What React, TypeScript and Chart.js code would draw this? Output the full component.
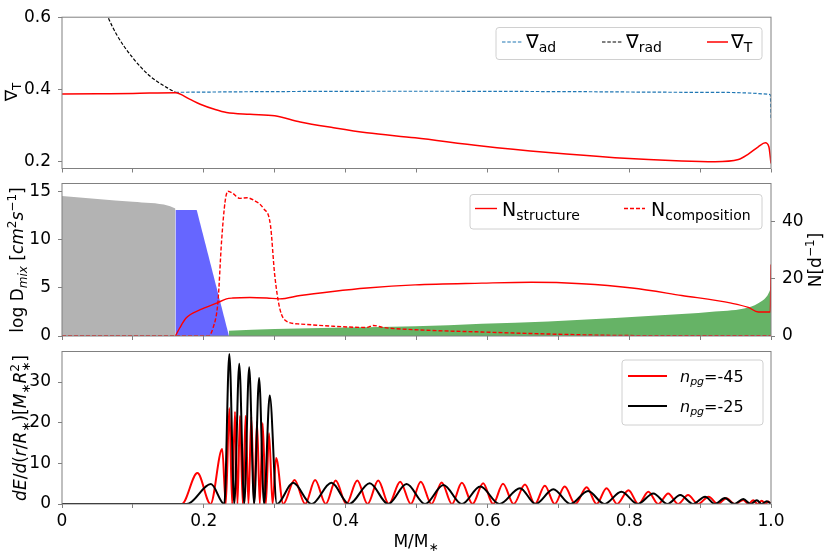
import { useEffect, useRef } from "react";
import { Chart, registerables } from "chart.js";

Chart.register(...registerables);

const W = 830;
const H = 554;
const FONT = '"DejaVu Sans", sans-serif';
const SPINE = "#808080";
const RED = "#ff0000";
const BLUE = "#1f77b4";

Chart.defaults.font.family = FONT;

// shared mass axis
const X_TICKS = [0, 0.1, 0.2, 0.3, 0.4, 0.5, 0.6, 0.7, 0.8, 0.9, 1.0];
const X_TICK_LABELS = ["0", "", "0.2", "", "0.4", "", "0.6", "", "0.8", "", "1.0"];

// top panel: temperature gradients
const GRAD_T_X = [0, 0.05, 0.1, 0.16, 0.18, 0.195, 0.215, 0.232, 0.265, 0.3, 0.336, 0.383, 0.43, 0.498, 0.592, 0.686, 0.78, 0.874, 0.921, 0.954, 0.968, 0.982, 0.992, 0.997, 1.0];
const GRAD_T_Y = [0.387, 0.388, 0.389, 0.391, 0.373, 0.359, 0.345, 0.336, 0.331, 0.327, 0.31, 0.294, 0.28, 0.266, 0.243, 0.225, 0.211, 0.202, 0.2, 0.206, 0.221, 0.241, 0.252, 0.241, 0.195];
const GRAD_AD_X = [0.16, 0.3, 0.5, 0.7, 0.9, 0.999, 1.0];
const GRAD_AD_Y = [0.392, 0.394, 0.395, 0.394, 0.392, 0.386, 0.32];
const GRAD_RAD_X = [0.05, 0.065, 0.077, 0.1, 0.124, 0.148, 0.16];
const GRAD_RAD_Y = [0.68, 0.6, 0.552, 0.487, 0.437, 0.405, 0.392];
const TOP_Y_TICKS = [0.2, 0.4, 0.6];

// middle panel: mixing + buoyancy frequency
const GRAY_X = [0, 0.05, 0.1, 0.15, 0.16];
const GRAY_Y = [14.5, 14.2, 13.9, 13.5, 13.2];
const BLUE_X = [0.16, 0.19, 0.2355];
const BLUE_Y = [13.05, 13.05, 0];
const GREEN_X = [0.2355, 0.3, 0.4, 0.498, 0.592, 0.686, 0.78, 0.874, 0.921, 0.968, 0.986, 0.995, 1.0];
const GREEN_Y = [0.55, 0.72, 0.88, 1.0, 1.27, 1.51, 1.86, 2.27, 2.54, 2.96, 3.58, 4.2, 5.0];
const N_STRUCT_X = [0.16, 0.166, 0.175, 0.195, 0.218, 0.232, 0.241, 0.265, 0.289, 0.307, 0.336, 0.382, 0.43, 0.498, 0.592, 0.662, 0.733, 0.804, 0.874, 0.944, 0.968, 0.982, 0.999, 1.0];
const N_STRUCT_Y = [0, 2.8, 6.3, 9.2, 11.5, 13.0, 13.3, 13.5, 13.3, 13.0, 14.2, 15.6, 16.8, 17.9, 18.5, 18.8, 18.3, 16.8, 14.2, 11.5, 10.0, 8.4, 8.4, 25];
const N_COMP_X = [0, 0.206, 0.213, 0.22, 0.225, 0.23, 0.234, 0.241, 0.251, 0.261, 0.27, 0.284, 0.294, 0.3, 0.307, 0.317, 0.336, 0.383, 0.43, 0.439, 0.453, 0.498, 0.592, 0.686, 0.78, 0.9, 1.0];
const N_COMP_Y = [0, 0, 2.8, 12.1, 33, 47, 50.7, 49.9, 48.2, 48.4, 47.6, 44.7, 38.8, 21.4, 9.8, 5.1, 4.2, 3.4, 3.0, 3.7, 3.0, 2.2, 1.4, 0.7, 0.2, 0.1, 0.1];
const MID_Y_TICKS = [0, 5, 10, 15];
const MID_Y2_TICKS = [0, 20, 40];

// bottom panel: mode energy density (peaks and zeros)
const E45_X = [0, 0.169, 0.191, 0.2095, 0.226, 0.231, 0.236, 0.24, 0.244, 0.2475, 0.251, 0.255, 0.259, 0.263, 0.267, 0.271, 0.275, 0.279, 0.283, 0.2875, 0.292, 0.297, 0.302, 0.312, 0.328, 0.343, 0.357, 0.372, 0.386, 0.401, 0.4165, 0.431, 0.446, 0.461, 0.477, 0.492, 0.506, 0.521, 0.5355, 0.55, 0.564, 0.579, 0.594, 0.608, 0.622, 0.637, 0.653, 0.667, 0.681, 0.695, 0.709, 0.724, 0.74, 0.754, 0.768, 0.783, 0.799, 0.813, 0.827, 0.841, 0.855, 0.869, 0.883, 0.897, 0.912, 0.925, 0.937, 0.949, 0.961, 0.968, 0.975, 0.981, 0.987, 0.992, 0.996, 1.0];
const E45_Y = [0, 0, 7.6, 0, 13.5, 0, 23.6, 0, 22.7, 0, 21.7, 0, 21.7, 0, 21.4, 0, 20.3, 0, 19.9, 0, 17.4, 0, 11.3, 0, 5.9, 0, 5.9, 0, 5.8, 0, 5.8, 0, 5.8, 0, 5.5, 0, 5.5, 0, 5.3, 0, 5.2, 0, 5.1, 0, 5.0, 0, 4.8, 0, 4.5, 0, 4.3, 0, 4.1, 0, 3.9, 0, 3.4, 0, 3.0, 0, 2.6, 0, 2.2, 0, 1.8, 0, 1.4, 0, 1.0, 0, 0.9, 0, 0.8, 0, 0.6, 0];
const E25_X = [0, 0.176, 0.21, 0.229, 0.236, 0.243, 0.25, 0.257, 0.264, 0.271, 0.278, 0.285, 0.293, 0.303, 0.326, 0.352, 0.38, 0.405, 0.434, 0.46, 0.486, 0.512, 0.538, 0.564, 0.59, 0.617, 0.646, 0.668, 0.693, 0.717, 0.742, 0.765, 0.789, 0.812, 0.834, 0.854, 0.872, 0.89, 0.907, 0.921, 0.935, 0.948, 0.961, 0.971, 0.98, 0.987, 0.994, 1.0];
const E25_Y = [0, 0, 4.9, 0, 36.9, 0, 34.5, 0, 33.6, 0, 31.0, 0, 26.7, 0, 5.2, 0, 5.2, 0, 5.1, 0, 4.9, 0, 4.7, 0, 4.3, 0, 3.9, 0, 3.6, 0, 3.2, 0, 3.0, 0, 2.6, 0, 2.2, 0, 1.8, 0, 1.5, 0, 1.2, 0, 0.9, 0, 0.7, 0];
const BOT_Y_TICKS = [0, 10, 20, 30];

const LEFT = 62;
const RIGHT = 771;
const PANEL_TOP = { top: 16, bottom: 168.5 };
const PANEL_MID = { top: 183.5, bottom: 336 };
const PANEL_BOT = { top: 351.5, bottom: 504 };

const pts = (xs: number[], ys: number[]) => xs.map((x, i) => ({ x, y: ys[i] }));

type Seg = { t: string; s: number; it?: boolean; dy?: number; stack?: boolean };

function drawRich(ctx: CanvasRenderingContext2D, segs: Seg[], x: number, y: number, align = "left", rot = 0) {
  ctx.save();
  ctx.translate(x, y);
  if (rot) ctx.rotate(rot);
  ctx.textBaseline = "alphabetic";
  ctx.textAlign = "left";
  ctx.fillStyle = "#000";
  const font = (s: Seg) => `${s.it ? "italic " : ""}${s.s}px ${FONT}`;
  const xs: number[] = [];
  let pos = 0;
  let start = 0;
  for (const s of segs) {
    ctx.font = font(s);
    const w = ctx.measureText(s.t).width;
    if (s.stack) {
      xs.push(start);
      pos = Math.max(pos, start + w);
    } else {
      xs.push(pos);
      start = pos;
      pos += w;
    }
  }
  const x0 = align === "center" ? -pos / 2 : 0;
  segs.forEach((s, i) => {
    ctx.font = font(s);
    ctx.fillText(s.t, x0 + xs[i], s.dy ?? 0);
  });
  ctx.restore();
}

function legendBox(ctx: CanvasRenderingContext2D, x: number, y: number, w: number, h: number) {
  const r = 3;
  ctx.beginPath();
  ctx.moveTo(x + r, y);
  ctx.arcTo(x + w, y, x + w, y + h, r);
  ctx.arcTo(x + w, y + h, x, y + h, r);
  ctx.arcTo(x, y + h, x, y, r);
  ctx.arcTo(x, y, x + w, y, r);
  ctx.closePath();
  ctx.fillStyle = "rgba(255,255,255,0.8)";
  ctx.fill();
  ctx.strokeStyle = "#d0d0d0";
  ctx.lineWidth = 1;
  ctx.stroke();
}

function legendLine(ctx: CanvasRenderingContext2D, x1: number, x2: number, y: number, color: string, width: number, dash: number[] = []) {
  ctx.save();
  ctx.beginPath();
  ctx.setLineDash(dash);
  ctx.strokeStyle = color;
  ctx.lineWidth = width;
  ctx.moveTo(x1, y);
  ctx.lineTo(x2, y);
  ctx.stroke();
  ctx.restore();
}

function decor(draw: (ctx: CanvasRenderingContext2D) => void) {
  return {
    id: "decor",
    afterDraw(chart: Chart) {
      const { ctx, chartArea: a } = chart;
      ctx.save();
      ctx.strokeStyle = SPINE;
      ctx.lineWidth = 1;
      ctx.strokeRect(a.left, a.top, a.right - a.left, a.bottom - a.top);
      draw(ctx);
      ctx.restore();
    },
  };
}

function xScale(panel: { top: number; bottom: number }, labels: boolean) {
  return {
    type: "linear" as const,
    min: 0,
    max: 1,
    afterBuildTicks: (axis: any) => {
      axis.ticks = X_TICKS.map((v) => ({ value: v }));
    },
    afterFit: (axis: any) => {
      axis.height = H - panel.bottom;
    },
    border: { display: false },
    grid: { drawOnChartArea: false, drawTicks: true, tickLength: 4, color: SPINE },
    ticks: {
      display: labels,
      autoSkip: false,
      maxRotation: 0,
      padding: 3,
      color: "#000",
      font: { size: 17 },
      callback: (_v: any, i: number) => X_TICK_LABELS[i],
    },
  };
}

function yScale(position: "left" | "right", min: number, max: number, ticks: number[], width: number) {
  return {
    type: "linear" as const,
    position,
    min,
    max,
    afterBuildTicks: (axis: any) => {
      axis.ticks = ticks.map((v) => ({ value: v }));
    },
    afterFit: (axis: any) => {
      axis.width = width;
    },
    border: { display: false },
    grid: { drawOnChartArea: false, drawTicks: true, tickLength: 4, color: SPINE },
    ticks: { padding: 7, color: "#000", font: { size: 17 }, callback: (v: any) => String(v) },
  };
}

function baseOptions(panel: { top: number; bottom: number }, padRight: number, scales: any) {
  return {
    responsive: false,
    animation: false as const,
    events: [],
    layout: { padding: { top: panel.top, left: 0, right: padRight, bottom: 0 } },
    plugins: { legend: { display: false }, tooltip: { enabled: false } },
    elements: { point: { radius: 0 } },
    scales,
  };
}

export default function App() {
  const topRef = useRef<HTMLCanvasElement>(null);
  const midRef = useRef<HTMLCanvasElement>(null);
  const botRef = useRef<HTMLCanvasElement>(null);

  useEffect(() => {
    const charts: Chart[] = [];

    charts.push(
      new Chart(topRef.current!, {
        type: "line",
        data: {
          datasets: [
            { data: pts(GRAD_T_X, GRAD_T_Y), borderColor: RED, borderWidth: 1.5, cubicInterpolationMode: "monotone" },
            { data: pts(GRAD_RAD_X, GRAD_RAD_Y), borderColor: "#000", borderWidth: 1.2, borderDash: [3.5, 1.8], cubicInterpolationMode: "monotone" },
            { data: pts(GRAD_AD_X, GRAD_AD_Y), borderColor: BLUE, borderWidth: 1.2, borderDash: [3.5, 1.8], cubicInterpolationMode: "monotone" },
          ],
        },
        options: baseOptions(PANEL_TOP, W - RIGHT, {
          x: xScale(PANEL_TOP, false),
          y: yScale("left", 0.181, 0.6, TOP_Y_TICKS, LEFT),
        }) as any,
        plugins: [
          decor((ctx) => {
            drawRich(ctx, [{ t: "∇", s: 17 }, { t: "T", s: 12, dy: 4 }], 17, 92, "center", -Math.PI / 2);
            legendBox(ctx, 496, 27.5, 266, 32);
            legendLine(ctx, 502, 522, 42, BLUE, 1.2, [3.5, 1.8]);
            legendLine(ctx, 602, 622, 42, "#000", 1.2, [3.5, 1.8]);
            legendLine(ctx, 707, 728, 42, RED, 1.5);
            drawRich(ctx, [{ t: "∇", s: 19 }, { t: "ad", s: 14, dy: 4 }], 526, 48);
            drawRich(ctx, [{ t: "∇", s: 19 }, { t: "rad", s: 14, dy: 4 }], 626, 48);
            drawRich(ctx, [{ t: "∇", s: 19 }, { t: "T", s: 14, dy: 4 }], 731, 48);
          }),
        ],
      })
    );

    charts.push(
      new Chart(midRef.current!, {
        type: "line",
        data: {
          datasets: [
            { data: pts(N_STRUCT_X, N_STRUCT_Y), yAxisID: "y2", borderColor: RED, borderWidth: 1.4, cubicInterpolationMode: "monotone" },
            { data: pts(N_COMP_X, N_COMP_Y), yAxisID: "y2", borderColor: RED, borderWidth: 1.4, borderDash: [4, 2], cubicInterpolationMode: "monotone" },
            { data: pts(GREEN_X, GREEN_Y), borderWidth: 0, borderColor: "rgba(0,0,0,0)", backgroundColor: "#66b366", fill: "origin", cubicInterpolationMode: "monotone" },
            { data: pts(BLUE_X, BLUE_Y), borderWidth: 0, borderColor: "rgba(0,0,0,0)", backgroundColor: "#6666ff", fill: "origin" },
            { data: pts(GRAY_X, GRAY_Y), borderWidth: 0, borderColor: "rgba(0,0,0,0)", backgroundColor: "#b3b3b3", fill: "origin", cubicInterpolationMode: "monotone" },
          ],
        },
        options: baseOptions(PANEL_MID, 0, {
          x: xScale(PANEL_MID, false),
          y: yScale("left", 0, 15.8, MID_Y_TICKS, LEFT),
          y2: yScale("right", 0, 53.4, MID_Y2_TICKS, W - RIGHT),
        }) as any,
        plugins: [
          decor((ctx) => {
            drawRich(
              ctx,
              [
                { t: "log D", s: 17 },
                { t: "mix", s: 12, it: true, dy: 4 },
                { t: " [", s: 17 },
                { t: "cm", s: 17, it: true },
                { t: "2", s: 12, dy: -7 },
                { t: "s", s: 17, it: true },
                { t: "−1", s: 12, dy: -7 },
                { t: "]", s: 17 },
              ],
              23,
              260,
              "center",
              -Math.PI / 2
            );
            drawRich(ctx, [{ t: "N[d", s: 17 }, { t: "−1", s: 12, dy: -7 }, { t: "]", s: 17 }], 821, 260, "center", -Math.PI / 2);
            legendBox(ctx, 470, 194.5, 292, 34.5);
            legendLine(ctx, 475, 497, 208.5, RED, 1.4);
            legendLine(ctx, 624, 645, 208.5, RED, 1.4, [4, 2]);
            drawRich(ctx, [{ t: "N", s: 19 }, { t: "structure", s: 14, dy: 4 }], 502, 215.7);
            drawRich(ctx, [{ t: "N", s: 19 }, { t: "composition", s: 14, dy: 4 }], 651, 215.7);
          }),
        ],
      })
    );

    charts.push(
      new Chart(botRef.current!, {
        type: "line",
        data: {
          datasets: [
            { data: pts(E25_X, E25_Y), borderColor: "#000", borderWidth: 2, cubicInterpolationMode: "monotone" },
            { data: pts(E45_X, E45_Y), borderColor: RED, borderWidth: 2, cubicInterpolationMode: "monotone" },
          ],
        },
        options: baseOptions(PANEL_BOT, W - RIGHT, {
          x: xScale(PANEL_BOT, true),
          y: yScale("left", 0, 37.5, BOT_Y_TICKS, LEFT),
        }) as any,
        plugins: [
          decor((ctx) => {
            drawRich(
              ctx,
              [
                { t: "dE", s: 17, it: true },
                { t: "/", s: 17 },
                { t: "d", s: 17, it: true },
                { t: "(", s: 17 },
                { t: "r", s: 17, it: true },
                { t: "/", s: 17 },
                { t: "R", s: 17, it: true },
                { t: "∗", s: 12, dy: 4 },
                { t: ")[", s: 17 },
                { t: "M", s: 17, it: true },
                { t: "∗", s: 12, dy: 4 },
                { t: "R", s: 17, it: true },
                { t: "∗", s: 12, dy: 4 },
                { t: "2", s: 12, dy: -7, stack: true },
                { t: "]", s: 17 },
              ],
              26,
              428,
              "center",
              -Math.PI / 2
            );
            drawRich(ctx, [{ t: "M/M", s: 17 }, { t: "∗", s: 12, dy: 4 }], 416, 546.5, "center");
            legendBox(ctx, 622, 360, 141, 65);
            legendLine(ctx, 628, 667, 376, RED, 2);
            legendLine(ctx, 628, 667, 406, "#000", 2);
            drawRich(ctx, [{ t: "n", s: 16, it: true }, { t: "pg", s: 11, it: true, dy: 3 }, { t: "=-45", s: 16 }], 680, 382);
            drawRich(ctx, [{ t: "n", s: 16, it: true }, { t: "pg", s: 11, it: true, dy: 3 }, { t: "=-25", s: 16 }], 680, 412);
          }),
        ],
      })
    );

    return () => charts.forEach((c) => c.destroy());
  }, []);

  const canvasStyle = { position: "absolute" as const, left: 0, top: 0 };

  return (
    <div style={{ position: "fixed", left: 0, top: 0, width: W, height: H, background: "#fff" }}>
      <canvas ref={topRef} width={W} height={H} style={canvasStyle} />
      <canvas ref={midRef} width={W} height={H} style={canvasStyle} />
      <canvas ref={botRef} width={W} height={H} style={canvasStyle} />
    </div>
  );
}
